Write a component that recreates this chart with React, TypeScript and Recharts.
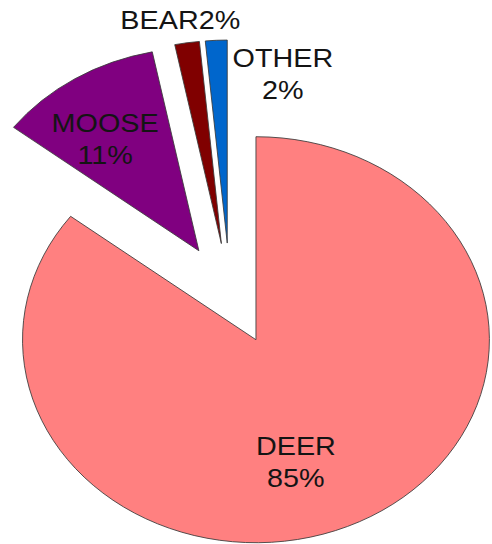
import React from 'react';
import { PieChart, Pie, Cell, Sector } from 'recharts';

const categories = ['DEER', 'MOOSE', 'BEAR', 'OTHER'];
const shares = [85.4, 11.4, 1.7, 1.5];
const colors = ['#FF8080', '#800080', '#800000', '#0066CC'];

const data = categories.map((name, i) => ({ name, value: shares[i] }));

// the source picture is stretched sideways, so the pie is an ellipse
const STRETCH = 1.15;
const EXPLODE = 51;
const RAD = Math.PI / 180;

// label placement relative to each exploded slice
const labelLayout = [
  { r: 0.625, shift: -10.4, inline: false },
  { r: 0.681, shift: 4.1, inline: false },
  { r: 1.117, shift: 0.6, inline: true },
  { r: 0.865, shift: -18.7, inline: false },
];

const explode = (cx: number, cy: number, midAngle: number) => ({
  x: cx + EXPLODE * Math.cos(-midAngle * RAD),
  y: cy + EXPLODE * Math.sin(-midAngle * RAD),
});

const ExplodedSector = (props: any) => {
  const c = explode(props.cx, props.cy, props.midAngle);
  return <Sector {...props} cx={c.x} cy={c.y} />;
};

const renderLabel = (props: any) => {
  const { cx, cy, midAngle, outerRadius, index } = props;
  const name = props.name ?? props.payload?.name;
  const value = props.value ?? props.payload?.value;
  const pct = `${Math.round(value)}%`;
  const c = explode(cx, cy, midAngle);
  const lay = labelLayout[index];
  const a = (midAngle + lay.shift) * RAD;
  const r = outerRadius * lay.r;
  const x = c.x + r * Math.cos(a);
  const y = c.y - r * Math.sin(a);
  const style = { fontFamily: '"Liberation Sans", Arial, sans-serif', fontSize: 25 };

  if (lay.inline) {
    return (
      <text x={x} y={y + 9} textAnchor="middle" fill="#141414" style={style}>
        {`${name}${pct}`}
      </text>
    );
  }
  return (
    <text x={x} textAnchor="middle" fill="#141414" style={style}>
      <tspan x={x} y={y - 7}>{name}</tspan>
      <tspan x={x} y={y + 25}>{pct}</tspan>
    </text>
  );
};

export default function App() {
  return (
    <div style={{ width: 492, height: 544, overflow: 'hidden', background: '#fff' }}>
      <style>{'body{margin:0}'}</style>
      <div style={{ width: 428, height: 544, transform: `scaleX(${STRETCH})`, transformOrigin: '0 0' }}>
        <PieChart width={428} height={544} margin={{ top: 0, right: 0, bottom: 0, left: 0 }}>
          <Pie
            data={data}
            dataKey="value"
            nameKey="name"
            cx={200}
            cy={294}
            outerRadius={203}
            startAngle={90}
            endAngle={-270}
            stroke="#3a3a3a"
            strokeWidth={0.8}
            shape={ExplodedSector}
            activeShape={ExplodedSector}
            inactiveShape={ExplodedSector}
            label={renderLabel}
            labelLine={false}
            isAnimationActive={false}
          >
            {data.map((d, i) => (
              <Cell key={d.name} fill={colors[i]} />
            ))}
          </Pie>
        </PieChart>
      </div>
    </div>
  );
}
